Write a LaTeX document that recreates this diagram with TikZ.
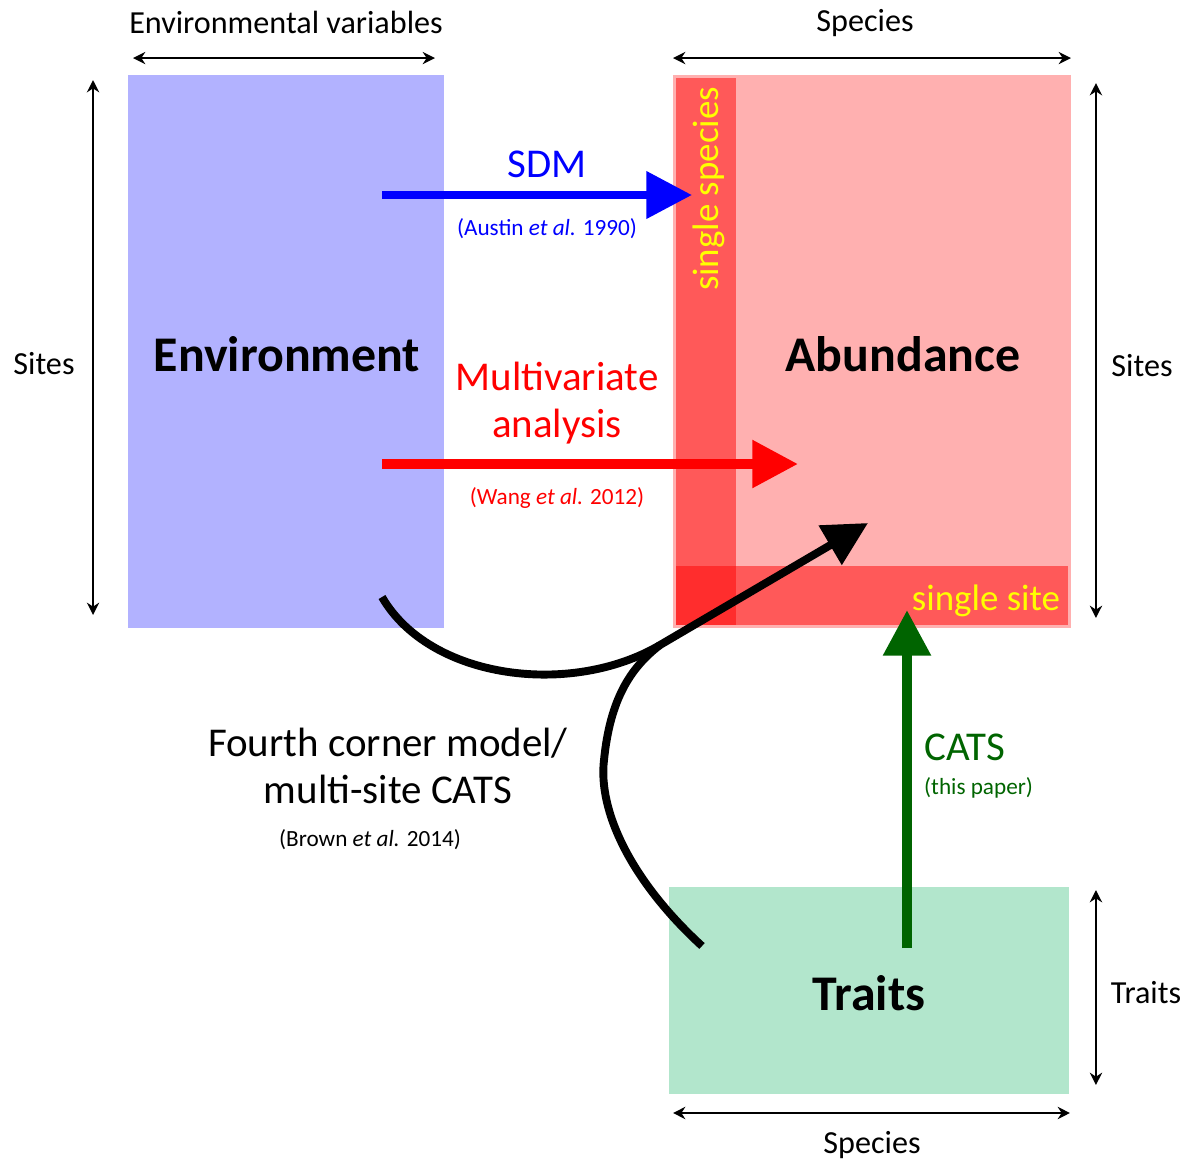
\documentclass[tikz,border=0pt]{standalone}
\usepackage{fontspec}
\setmainfont{Carlito}
\usetikzlibrary{arrows.meta,positioning}
\definecolor{envblue}{HTML}{B2B2FF}
\definecolor{abundpink}{HTML}{FFB0B0}
\definecolor{traitgreen}{HTML}{B2E6CC}
\definecolor{catsgreen}{HTML}{006400}
\definecolor{sdmblue}{HTML}{0000FF}
\definecolor{mvred}{HTML}{FF0000}
\definecolor{stripyellow}{HTML}{FFFF00}

\tikzset{
  block/.style={rectangle,inner sep=0pt,outer sep=0pt},
  strip/.style={block,fill=red,fill opacity=0.49,anchor=north west},
  dimline/.style={line width=1.1pt,{Stealth[length=7pt,width=7pt]}-{Stealth[length=7pt,width=7pt]}},
  dimlabel/.style={font=\fontsize{18.3}{20}\selectfont},
  bigtitle/.style={font=\fontsize{28.4}{30}\selectfont\bfseries},
  methodname/.style={font=\fontsize{23.3}{26.5}\selectfont,align=center},
  citation/.style={font=\fontsize{13.2}{15}\selectfont},
  striplabel/.style={text=stripyellow,font=\fontsize{21}{23}\selectfont},
  fatarrow/.style={line width=#1,-{Triangle[length=26pt,width=26pt]}},
}

\begin{document}
\begin{tikzpicture}[x=0.02cm,y=-0.02cm]
\useasboundingbox (0,0) rectangle (1186,1161);

% the three matrices
\node[block,fill=envblue,minimum width=6.32cm,minimum height=11.06cm] (env) at (286,351.5) {};
\node[block,fill=abundpink,minimum width=7.96cm,minimum height=11.06cm] (abund) at (872,351.5) {};
\node[block,fill=traitgreen,minimum width=8cm,minimum height=4.14cm] (traits) at (869,990.5) {};
\node[strip,minimum width=1.2cm,minimum height=10.94cm] (onespecies) at ([shift={(3,3)}]abund.north west) {};
\node[strip,minimum width=7.84cm,minimum height=1.18cm] (onesite) at ([shift={(3,-62)}]abund.south west) {};

\node[bigtitle] (envtitle) at (287,354) {Environment};
\node[bigtitle] (abundtitle) at (903,354) {Abundance};
\node[bigtitle] (traitstitle) at (869,993) {Traits};
\node[striplabel,rotate=90] (speciestext) at (709,189) {single species};
\node[striplabel] (sitetext) at (986,601) {single site};

% dimensions
\draw[dimline] ([shift={(5,-17)}]env.north west) -- ([shift={(-9,-17)}]env.north east);
\draw[dimline] ([shift={(0,-17)}]abund.north west) -- ([shift={(0,-17)}]abund.north east);
\draw[dimline] ([shift={(-35,5)}]env.north west) -- ([shift={(-35,-13)}]env.south west);
\draw[dimline] ([shift={(25,8)}]abund.north east) -- ([shift={(25,-10)}]abund.south east);
\draw[dimline] ([shift={(27,3)}]traits.north east) -- ([shift={(27,-9)}]traits.south east);
\draw[dimline] ([shift={(4,19)}]traits.south west) -- ([shift={(1,19)}]traits.south east);
\node[dimlabel] (envvars) at (286,22) {Environmental variables};
\node[dimlabel] (speciestop) at (865,23) {Species};
\node[dimlabel] (sitesleft) at (44,364) {Sites};
\node[dimlabel] (sitesright) at (1142,366) {Sites};
\node[dimlabel] (traitsdim) at (1146,993) {Traits};
\node[dimlabel] (speciesbottom) at (872,1145) {Species};

% methods
\coordinate (sdmtail) at (382,195);
\coordinate (sdmtip) at (692,195);
\coordinate (mvtail) at (382,464);
\coordinate (mvtip) at (798,464);
\coordinate (fcenv) at (382,597);
\coordinate (fcjoin) at (660,645);
\coordinate (fctip) at (868,523);
\coordinate (fctraits) at (702,946);
\coordinate (catstail) at (907,948);
\coordinate (catstip) at (907,610);

\draw[fatarrow=4.8pt,sdmblue] (sdmtail) -- (sdmtip);
\node[methodname,text=sdmblue] (sdm) at (547,164) {SDM};
\node[citation,text=sdmblue] (austin) at (547,229) {(Austin \textit{et al.} 1990)};

\draw[fatarrow=5.5pt,mvred] (mvtail) -- (mvtip);
\node[methodname,text=mvred] (mv) at (557,403) {Multivariate\\analysis};
\node[citation,text=mvred] (wang) at (557,498) {(Wang \textit{et al.} 2012)};

\draw[line width=4.5pt] (fctraits) .. controls (630,880) and (598,810) .. (604,760)
  .. controls (610,700) and (630,668) .. (fcjoin);
\draw[fatarrow=4.5pt,-{Triangle[length=25pt,width=25pt]}] (fcenv) .. controls (430,680) and (572,697) .. (fcjoin) -- (fctip);
\node[methodname] (fourth) at (388,766) {Fourth corner model/\\multi-site CATS};
\node[citation] (brown) at (370,840) {(Brown \textit{et al.} 2014)};

\draw[fatarrow=5.7pt,catsgreen] (catstail) -- (catstip);
\node[methodname,text=catsgreen,anchor=west] (cats) at (918,747) {CATS};
\node[citation,text=catsgreen,anchor=west] (thispaper) at (918,788) {(this paper)};
\end{tikzpicture}
\end{document}
